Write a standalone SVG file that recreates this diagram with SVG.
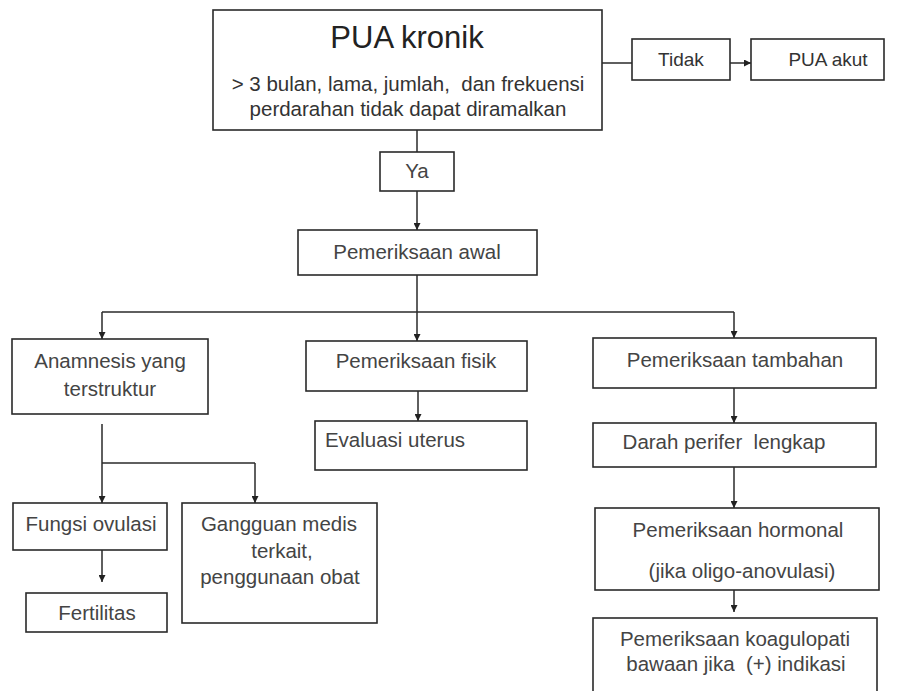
<svg xmlns="http://www.w3.org/2000/svg" width="900" height="691" viewBox="0 0 900 691">
<defs>
<marker id="ah" viewBox="0 0 10 10" refX="10" refY="5" markerWidth="7" markerHeight="7" markerUnits="userSpaceOnUse" orient="auto">
<path d="M0,0 L10,5 L0,10 Z" fill="#222"/>
</marker>
<style>
.box{fill:#fff;stroke:#2a2a2a;stroke-width:1.6}
.ln{fill:none;stroke:#2a2a2a;stroke-width:1.5}
.ar{fill:none;stroke:#2a2a2a;stroke-width:1.5;marker-end:url(#ah)}
text{font-family:"Liberation Sans",Arial,sans-serif;font-size:20.5px;fill:#444;text-anchor:middle;white-space:pre}
.t{font-size:31px;fill:#222}
.s{font-size:20.5px;fill:#333}
.m{font-size:19px;fill:#333}
</style>
</defs>
<rect width="900" height="691" fill="#fff"/>
<g id="connectors">
<line class="ln" x1="602" y1="63" x2="632" y2="63"/>
<line class="ar" x1="730" y1="63" x2="751" y2="63"/>
<line class="ln" x1="417" y1="130" x2="417" y2="152"/>
<line class="ar" x1="417" y1="191" x2="417" y2="230"/>
<line class="ln" x1="417" y1="275" x2="417" y2="312"/>
<polyline class="ln" points="102,312 734,312"/>
<line class="ar" x1="102" y1="312" x2="102" y2="339"/>
<line class="ar" x1="417" y1="312" x2="417" y2="341"/>
<line class="ar" x1="734" y1="312" x2="734" y2="338"/>
<line class="ar" x1="418" y1="391" x2="418" y2="421"/>
<line class="ar" x1="734" y1="388" x2="734" y2="423"/>
<line class="ar" x1="734" y1="467" x2="734" y2="508"/>
<line class="ar" x1="734" y1="590" x2="734" y2="612"/>
<line class="ln" x1="102" y1="424" x2="102" y2="463"/>
<polyline class="ln" points="102,463 255,463"/>
<line class="ar" x1="102" y1="463" x2="102" y2="503"/>
<line class="ar" x1="255" y1="463" x2="255" y2="503"/>
<line class="ar" x1="102" y1="550" x2="102" y2="582"/>
</g>
<g id="pua-kronik">
<rect class="box" x="213" y="10" width="389" height="120"/>
<text class="t" x="407" y="48">PUA kronik</text>
<text class="s" x="408" y="91">&gt; 3 bulan, lama, jumlah,  dan frekuensi</text>
<text class="s" x="408" y="116">perdarahan tidak dapat diramalkan</text>
</g>
<g id="tidak">
<rect class="box" x="632" y="39" width="98" height="41"/>
<text class="m" x="681" y="66">Tidak</text>
</g>
<g id="pua-akut">
<rect class="box" x="751" y="39" width="133" height="41"/>
<text class="m" x="828" y="66">PUA akut</text>
</g>
<g id="ya">
<rect class="box" x="380" y="152" width="74" height="39"/>
<text x="417" y="178">Ya</text>
</g>
<g id="pemeriksaan-awal">
<rect class="box" x="298" y="230" width="239" height="45"/>
<text x="417" y="259">Pemeriksaan awal</text>
</g>
<g id="anamnesis">
<rect class="box" x="12" y="339" width="196" height="75"/>
<text x="110" y="368">Anamnesis yang</text>
<text x="110" y="396">terstruktur</text>
</g>
<g id="pemeriksaan-fisik">
<rect class="box" x="306" y="341" width="221" height="50"/>
<text x="416" y="368">Pemeriksaan fisik</text>
</g>
<g id="evaluasi-uterus">
<rect class="box" x="315" y="421" width="212" height="49"/>
<text x="395" y="447">Evaluasi uterus</text>
</g>
<g id="pemeriksaan-tambahan">
<rect class="box" x="593" y="338" width="283" height="50"/>
<text x="735" y="367">Pemeriksaan tambahan</text>
</g>
<g id="darah-perifer">
<rect class="box" x="593" y="423" width="283" height="44"/>
<text x="724" y="449">Darah perifer  lengkap</text>
</g>
<g id="pemeriksaan-hormonal">
<rect class="box" x="595" y="508" width="284" height="82"/>
<text x="738" y="537">Pemeriksaan hormonal</text>
<text x="742" y="578">(jika oligo-anovulasi)</text>
</g>
<g id="koagulopati">
<rect class="box" x="593" y="618" width="284" height="80"/>
<text x="735" y="646">Pemeriksaan koagulopati</text>
<text x="736" y="671">bawaan jika  (+) indikasi</text>
</g>
<g id="fungsi-ovulasi">
<rect class="box" x="13" y="503" width="154" height="47"/>
<text x="91" y="531">Fungsi ovulasi</text>
</g>
<g id="fertilitas">
<rect class="box" x="26" y="593" width="141" height="39"/>
<text x="97" y="620">Fertilitas</text>
</g>
<g id="gangguan-medis">
<rect class="box" x="182" y="503" width="195" height="120"/>
<text x="279" y="531">Gangguan medis</text>
<text x="282" y="558">terkait,</text>
<text x="280" y="584">penggunaan obat</text>
</g>
</svg>
